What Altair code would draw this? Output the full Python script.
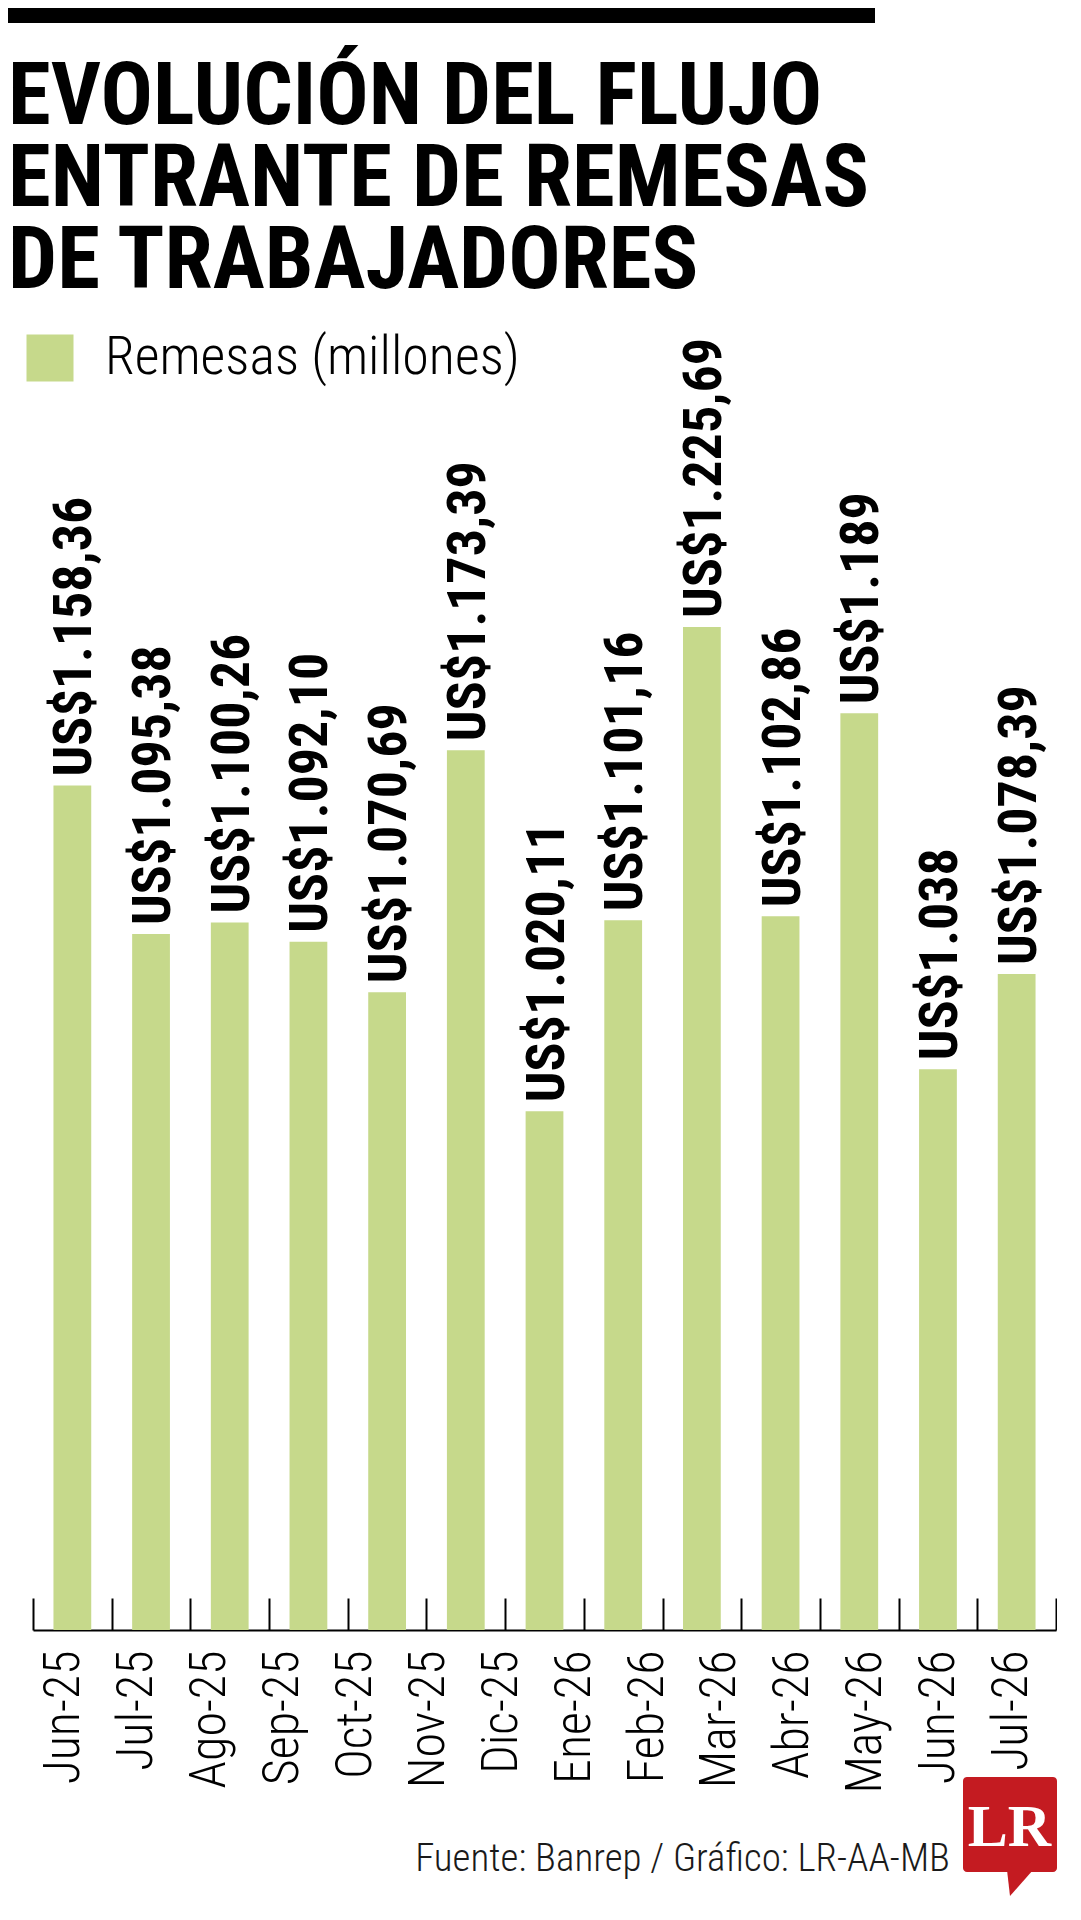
import altair as alt
import pandas as pd

# ---------------- data ----------------
months = ["Jun-25", "Jul-25", "Ago-25", "Sep-25", "Oct-25", "Nov-25", "Dic-25",
          "Ene-26", "Feb-26", "Mar-26", "Abr-26", "May-26", "Jun-26", "Jul-26"]
values = [1158.36, 1095.38, 1100.26, 1092.10, 1070.69, 1173.39, 1020.11,
          1101.16, 1225.69, 1102.86, 1189.0, 1038.0, 1078.39]
value_labels = ["US$1.158,36", "US$1.095,38", "US$1.100,26", "US$1.092,10",
                "US$1.070,69", "US$1.173,39", "US$1.020,11", "US$1.101,16",
                "US$1.225,69", "US$1.102,86", "US$1.189", "US$1.038", "US$1.078,39"]
series_name = "Remesas (millones)"
title_lines = ["EVOLUCIÓN DEL FLUJO", "ENTRANTE DE REMESAS", "DE TRABAJADORES"]
source_text = "Fuente:  Banrep / Gráfico: LR-AA-MB"
logo_text = "LR"

# ---------------- style ----------------
GREEN = "#c6d98b"
RED = "#c41b21"
COND = "Roboto Condensed"
SERIF = "Liberation Serif"
W = 1048
H = 1296

bars_df = pd.DataFrame({
    "slot": list(range(len(values))),
    "valor": values,
    "etiqueta": value_labels,
    "serie": [series_name] * len(values),
})
months_df = pd.DataFrame({"mes": months})
one = pd.DataFrame({"t": [source_text], "l": [logo_text]})

x_bar = alt.X(
    "slot:O",
    scale=alt.Scale(range=[25, W], paddingInner=0, paddingOuter=0),
    axis=alt.Axis(orient="bottom", offset=-32, tickSize=32, tickWidth=2,
                  tickColor="black", tickBand="extent", domain=False,
                  labels=False, grid=False, title=None),
)
y_val = alt.Y("valor:Q", stack=None,
              scale=alt.Scale(domain=[800, 1350], zero=False, nice=False),
              axis=None)

bars = alt.Chart(bars_df).mark_bar(width=alt.RelativeBandSize(0.48)).encode(
    x=x_bar,
    y=y_val,
    y2=alt.datum(800),
    color=alt.Color(
        "serie:N",
        scale=alt.Scale(range=[GREEN]),
        legend=alt.Legend(
            title=None, orient="none", legendX=15, legendY=323,
            symbolType="square", symbolSize=2209, symbolStrokeWidth=0,
            symbolOpacity=1, labelFont=COND, labelFontWeight=300,
            labelFontSize=54, labelColor="black", labelOffset=28,
            padding=0, labelLimit=700,
        ),
    ),
)

texts = alt.Chart(bars_df).mark_text(
    angle=270, align="left", baseline="middle", dx=9, dy=3,
    font=COND, fontWeight="bold", fontSize=54, color="black",
).encode(x=x_bar, y=y_val, text="etiqueta:N")

month_axis = alt.Chart(months_df).mark_point(opacity=0).encode(
    x=alt.X(
        "mes:N", sort=months,
        scale=alt.Scale(range=[25, W], padding=0.5165, align=0.41),
        axis=alt.Axis(orient="bottom", domain=True, domainColor="black",
                      domainWidth=2, ticks=False, tickSize=0, labelAngle=270,
                      labelAlign="right", labelBaseline="middle",
                      labelPadding=20, labelFont=COND, labelFontWeight=300,
                      labelFontSize=50, labelColor="black", labelOverlap=False,
                      labelFlush=False, grid=False, title=None),
    )
)

footer = alt.Chart(one).mark_text(
    align="right", baseline="alphabetic", font=COND, fontWeight=300,
    fontSize=39, color="#1a1a1a",
).encode(x=alt.value(942), y=alt.value(1537), text="t:N")

logo_box = alt.Chart(one).mark_rect(color=RED, cornerRadius=4).encode(
    x=alt.value(955), x2=alt.value(1049), y=alt.value(1443), y2=alt.value(1538)
)
logo_tail = alt.Chart(one).mark_point(
    shape="M -1 -1 L 1 -1 L -0.77 1 Z", size=676, filled=True,
    color=RED, opacity=1, strokeWidth=0,
).encode(x=alt.value(1012), y=alt.value(1549))
logo_lr = alt.Chart(one).mark_text(
    align="center", baseline="alphabetic", font=SERIF, fontWeight="bold",
    fontSize=60, color="white",
).encode(x=alt.value(1001.5), y=alt.value(1512), text="l:N")

main = alt.layer(
    alt.layer(bars, texts), month_axis, footer, logo_box, logo_tail, logo_lr
).resolve_scale(x="independent").properties(width=W, height=H)

top_bar = alt.Chart(one).mark_rect(color="black").encode(
    x=alt.value(0), x2=alt.value(867), y=alt.value(0), y2=alt.value(15)
).properties(
    width=867, height=15,
    title=alt.TitleParams(
        text=title_lines, anchor="start", frame="group", orient="bottom",
        font=COND, fontWeight="bold", fontSize=87, lineHeight=82,
        color="black", offset=32, baseline="top",
    ),
)

chart = alt.vconcat(top_bar, main, spacing=29).properties(
    padding={"left": 0, "top": 0, "right": 0, "bottom": 0}
).configure_view(stroke=None)

chart.save("out.html", embed_options={"renderer": "svg", "actions": False})
